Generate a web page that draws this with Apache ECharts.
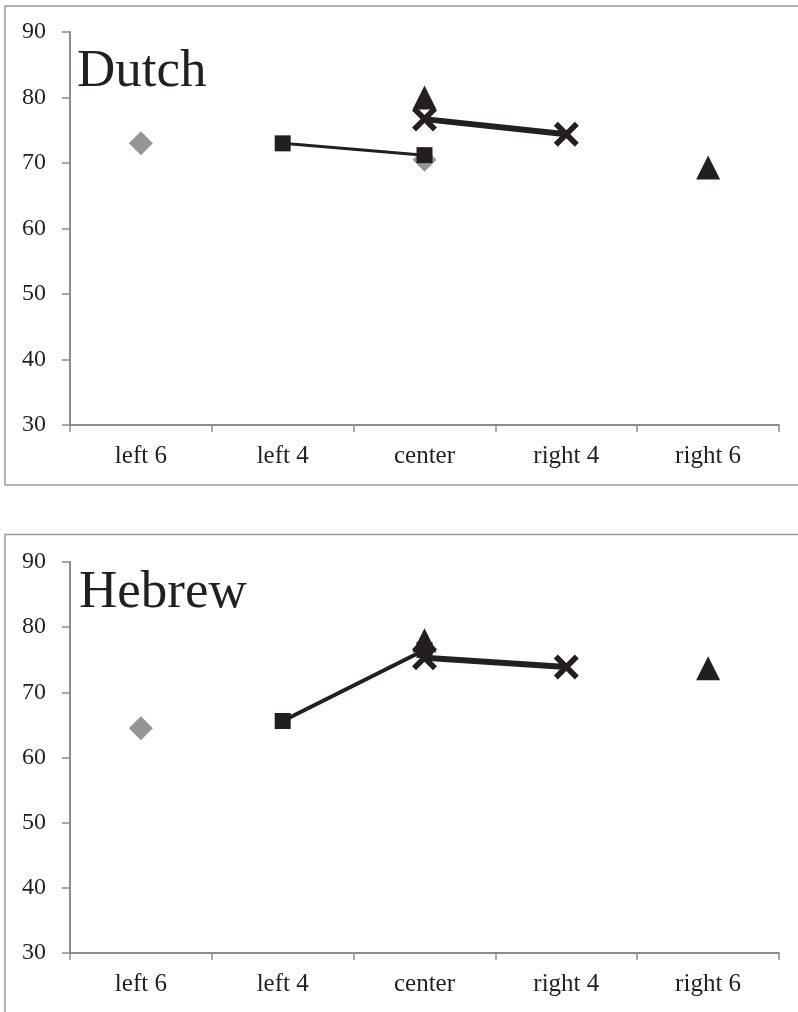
<!DOCTYPE html>
<html>
<head>
<meta charset="utf-8">
<script src="https://cdn.jsdelivr.net/npm/echarts@6/dist/echarts.min.js"></script>
<style>
html,body{margin:0;padding:0;background:#fff;}
#chart{width:798px;height:1012px;}
</style>
</head>
<body>
<div id="chart"></div>
<script>
var categories = ['left 6', 'left 4', 'center', 'right 4', 'right 6'];
var yTicks = [30, 40, 50, 60, 70, 80, 90];
var panelTitles = ['Dutch', 'Hebrew'];

var dutchDiamond  = [73.0, null, 70.5, null, null];
var dutchSquare   = [null, 73.0, 71.2, null, null];
var dutchTriangle = [null, null, 80.0, null, 69.3];
var dutchCross    = [null, null, 76.7, 74.4, null];

var hebrewDiamond  = [64.5, null, null, null, null];
var hebrewSquare   = [null, 65.6, 76.5, null, null];
var hebrewTriangle = [null, null, 78.0, null, 73.7];
var hebrewCross    = [null, null, 75.3, 73.9, null];

var BLACK = '#231f20';
var GRAY = '#939598';
var AXIS = '#8c8c8c';
var FONT = '"Liberation Serif", "Times New Roman", serif';
var CROSS = 'path://M0,3.2 L3.2,0 L10,6.8 L16.8,0 L20,3.2 L13.2,10 L20,16.8 L16.8,20 L10,13.2 L3.2,20 L0,16.8 L6.8,10 Z';

function xAxisFor(i) {
  return {
    type: 'category', gridIndex: i, data: categories, boundaryGap: true,
    axisLine: { show: true, lineStyle: { color: AXIS, width: 2 } },
    axisTick: { show: true, length: 7, interval: 0, lineStyle: { color: AXIS, width: 1.5 } },
    axisLabel: { margin: 19, interval: 0, color: BLACK, fontFamily: FONT, fontSize: 25 },
    splitLine: { show: false }
  };
}
function yAxisFor(i) {
  return {
    type: 'value', gridIndex: i, min: yTicks[0], max: yTicks[yTicks.length - 1], interval: 10,
    axisLine: { show: true, lineStyle: { color: AXIS, width: 2 } },
    axisTick: { show: true, length: 8, lineStyle: { color: AXIS, width: 1.5 } },
    axisLabel: { margin: 24, color: BLACK, fontFamily: FONT, fontSize: 24 },
    splitLine: { show: false }
  };
}
function seriesFor(i, diamond, square, triangle, cross, sqWidth) {
  var base = { type: 'line', xAxisIndex: i, yAxisIndex: i, connectNulls: false, showSymbol: true,
    emphasis: { disabled: true }, silent: true, animation: false };
  return [
    Object.assign({}, base, { data: diamond, symbol: 'diamond', symbolSize: 24,
      itemStyle: { color: GRAY }, lineStyle: { width: 0, opacity: 0 } }),
    Object.assign({}, base, { data: square, symbol: 'rect', symbolSize: 16,
      itemStyle: { color: BLACK }, lineStyle: { color: BLACK, width: sqWidth } }),
    Object.assign({}, base, { data: triangle, symbol: 'triangle', symbolSize: 24,
      itemStyle: { color: BLACK }, lineStyle: { width: 0, opacity: 0 } }),
    Object.assign({}, base, { data: cross, symbol: CROSS, symbolSize: 25,
      itemStyle: { color: BLACK }, lineStyle: { color: BLACK, width: 6 } })
  ];
}

var chart = echarts.init(document.getElementById('chart'), null, { renderer: 'canvas' });
chart.setOption({
  backgroundColor: '#fff',
  animation: false,
  title: [
    { text: panelTitles[0], left: 77, top: 46, padding: 0,
      textStyle: { fontFamily: FONT, fontSize: 53, fontWeight: 'normal', color: BLACK } },
    { text: panelTitles[1], left: 79, top: 567, padding: 0,
      textStyle: { fontFamily: FONT, fontSize: 53, fontWeight: 'normal', color: BLACK } }
  ],
  graphic: [
    { type: 'rect', shape: { x: 5, y: 6, width: 800, height: 479 },
      style: { fill: 'none', stroke: '#9a9a9a', lineWidth: 1.5 }, silent: true, z: -1 },
    { type: 'rect', shape: { x: 5, y: 534.5, width: 800, height: 500 },
      style: { fill: 'none', stroke: '#9a9a9a', lineWidth: 1.5 }, silent: true, z: -1 }
  ],
  grid: [
    { left: 70, top: 32, width: 709, height: 393, containLabel: false },
    { left: 70, top: 562, width: 709, height: 391, containLabel: false }
  ],
  xAxis: [xAxisFor(0), xAxisFor(1)],
  yAxis: [yAxisFor(0), yAxisFor(1)],
  series: [].concat(
    seriesFor(0, dutchDiamond, dutchSquare, dutchTriangle, dutchCross, 3),
    seriesFor(1, hebrewDiamond, hebrewSquare, hebrewTriangle, hebrewCross, 4)
  )
});
</script>
</body>
</html>
